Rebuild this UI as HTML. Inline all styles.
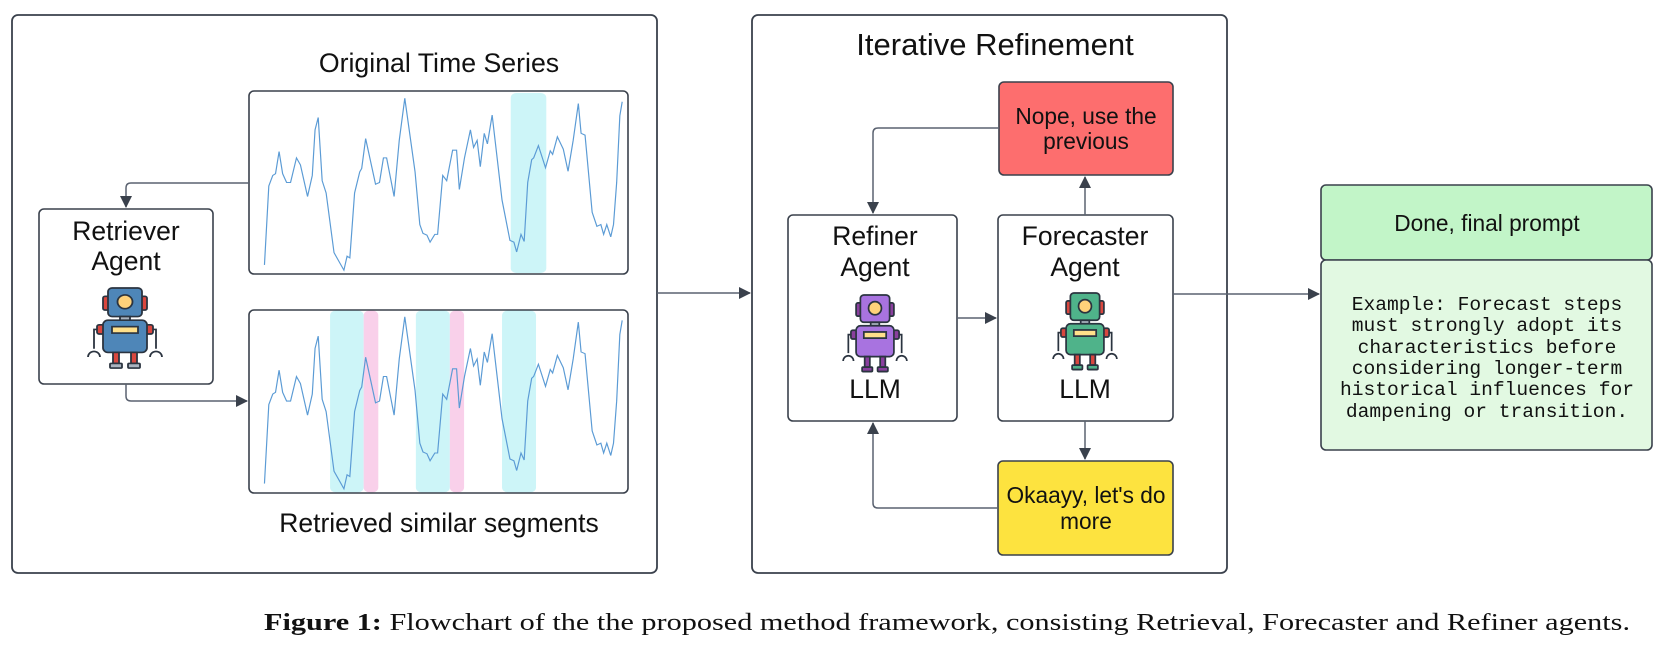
<!DOCTYPE html>
<html><head><meta charset="utf-8"><style>
html,body{margin:0;padding:0;background:#fff;}
svg{display:block;}
text{font-family:"Liberation Sans",sans-serif;fill:#111;}
</style></head><body>
<svg width="1674" height="646" viewBox="0 0 1674 646" xmlns="http://www.w3.org/2000/svg">
<defs>
<marker id="ah" markerWidth="12" markerHeight="12" refX="11" refY="6" orient="auto" markerUnits="userSpaceOnUse">
<path d="M0,0 L12,6 L0,12 Z" fill="#3a414c"/>
</marker>
<polyline id="ser" fill="none" stroke="#5b9bd5" stroke-width="3" points="669,755 680,530 690,500 697,495 706,432 715,495 725,520 735,520 750,450 760,470 778,560 790,500 797,370 805,335 815,515 825,550 845,720 860,750 870,770 878,730 885,735 897,550 910,490 915,480 925,395 950,525 960,520 970,450 978,450 997,560 1010,400 1024,280 1050,490 1062,640 1070,665 1080,670 1088,690 1100,668 1107,668 1120,500 1130,515 1145,428 1155,428 1162,540 1175,450 1190,370 1198,420 1207,400 1215,475 1225,380 1233,410 1245,328 1270,570 1290,685 1300,690 1307,718 1318,668 1326,688 1335,520 1345,455 1350,450 1362,415 1380,478 1392,430 1398,440 1410,390 1425,425 1437,488 1450,400 1463,295 1470,380 1480,385 1498,605 1510,645 1520,640 1527,668 1535,640 1545,675 1552,640 1560,520 1568,330 1574,290"/>
</defs>

<rect x="12" y="15" width="645" height="558" rx="6" fill="#fff" stroke="#3a414c" stroke-width="1.8"/>
<text x="439" y="72" font-size="26.7" text-anchor="middle">Original Time Series</text>
<text x="439" y="532" font-size="26.5" text-anchor="middle">Retrieved similar segments</text>

<g transform="scale(0.3953,0.3509)">
<rect x="1292" y="265" width="90" height="513" rx="14" fill="#cdf5f8"/>
<rect x="835" y="885" width="85" height="518" rx="14" fill="#cdf5f8"/>
<rect x="1052" y="885" width="86" height="518" rx="14" fill="#cdf5f8"/>
<rect x="1270" y="885" width="86" height="518" rx="14" fill="#cdf5f8"/>
<rect x="920" y="885" width="37" height="518" rx="14" fill="#f9d0ea"/>
<rect x="1138" y="885" width="36" height="518" rx="14" fill="#f9d0ea"/>
<use href="#ser"/>
<use href="#ser" transform="translate(0,623)"/>
</g>
<rect x="249" y="91" width="379" height="183" rx="5" fill="none" stroke="#3a414c" stroke-width="1.6"/>
<rect x="249" y="310" width="379" height="183" rx="5" fill="none" stroke="#3a414c" stroke-width="1.6"/>

<rect x="39" y="209" width="174" height="175" rx="5" fill="#fff" stroke="#3a414c" stroke-width="1.6"/>
<text x="126" y="240" font-size="26.5" text-anchor="middle">Retriever</text>
<text x="126" y="270" font-size="26.5" text-anchor="middle">Agent</text>

<path d="M249,183 H131 Q126,183 126,188 V207" fill="none" stroke="#5a6270" stroke-width="1.5" marker-end="url(#ah)"/>
<path d="M126,384 V396 Q126,401 131,401 H247" fill="none" stroke="#5a6270" stroke-width="1.5" marker-end="url(#ah)"/>

<g transform="translate(125,288) scale(1,0.92)">
<g stroke="#2b3440" stroke-width="1.8">
<rect x="-22" y="9" width="6" height="15" rx="2" fill="#d9473f"/>
<rect x="16" y="9" width="6" height="15" rx="2" fill="#d9473f"/>
<rect x="-17" y="0" width="34" height="31" rx="4" fill="#4e86b8"/>
<circle cx="0" cy="15" r="7.5" fill="#ffd27a"/>
<rect x="-5" y="31" width="10" height="5" fill="#aab4c0"/>
<rect x="-28" y="40" width="7" height="10" rx="2" fill="#d9473f"/>
<rect x="21" y="40" width="7" height="10" rx="2" fill="#d9473f"/>
<rect x="-22" y="35" width="44" height="35" rx="5" fill="#4e86b8"/>
<rect x="-13" y="42" width="26" height="7" fill="#ffe08a"/>
<path d="M-28,45 H-31 V66 M28,45 H31 V66" fill="none"/>
<path d="M-37,75 a6,6 0 0 1 12,0 M25,75 a6,6 0 0 1 12,0" fill="none"/>
<rect x="-12" y="70" width="6" height="12" fill="#d9473f"/>
<rect x="6" y="70" width="6" height="12" fill="#d9473f"/>
<rect x="-15" y="82" width="12" height="5" rx="1" fill="#aab4c0"/>
<rect x="3" y="82" width="12" height="5" rx="1" fill="#aab4c0"/>
</g></g>

<rect x="752" y="15" width="475" height="558" rx="6" fill="#fff" stroke="#3a414c" stroke-width="1.8"/>
<text x="995" y="55" font-size="31" text-anchor="middle">Iterative Refinement</text>

<path d="M657,293 H750" fill="none" stroke="#5a6270" stroke-width="1.5" marker-end="url(#ah)"/>

<rect x="999" y="82" width="174" height="93" rx="5" fill="#fd6e6e" stroke="#3a414c" stroke-width="1.6"/>
<text x="1086" y="124" font-size="22.7" text-anchor="middle">Nope, use the</text>
<text x="1086" y="149" font-size="22.7" text-anchor="middle">previous</text>

<rect x="788" y="215" width="169" height="206" rx="5" fill="#fff" stroke="#3a414c" stroke-width="1.6"/>
<text x="875" y="245" font-size="26.5" text-anchor="middle">Refiner</text>
<text x="875" y="276" font-size="26.5" text-anchor="middle">Agent</text>
<text x="875" y="398" font-size="26.5" text-anchor="middle">LLM</text>

<rect x="998" y="215" width="175" height="206" rx="5" fill="#fff" stroke="#3a414c" stroke-width="1.6"/>
<text x="1085" y="245" font-size="26.5" text-anchor="middle">Forecaster</text>
<text x="1085" y="276" font-size="26.5" text-anchor="middle">Agent</text>
<text x="1085" y="398" font-size="26.5" text-anchor="middle">LLM</text>

<rect x="998" y="461" width="175" height="94" rx="5" fill="#fde33f" stroke="#3a414c" stroke-width="1.6"/>
<text x="1086" y="503" font-size="22.7" text-anchor="middle">Okaayy, let's do</text>
<text x="1086" y="529" font-size="22.7" text-anchor="middle">more</text>

<path d="M999,128 H878 Q873,128 873,133 V213" fill="none" stroke="#5a6270" stroke-width="1.5" marker-end="url(#ah)"/>
<path d="M957,318 H996" fill="none" stroke="#5a6270" stroke-width="1.5" marker-end="url(#ah)"/>
<path d="M1085,215 V177" fill="none" stroke="#5a6270" stroke-width="1.5" marker-end="url(#ah)"/>
<path d="M1085,421 V459" fill="none" stroke="#5a6270" stroke-width="1.5" marker-end="url(#ah)"/>
<path d="M998,508 H878 Q873,508 873,503 V423" fill="none" stroke="#5a6270" stroke-width="1.5" marker-end="url(#ah)"/>
<path d="M1173,294 H1319" fill="none" stroke="#5a6270" stroke-width="1.5" marker-end="url(#ah)"/>

<g transform="translate(875,295) scale(0.86,0.88)">
<g stroke="#2b3440" stroke-width="2">
<rect x="-22" y="9" width="6" height="15" rx="2" fill="#8a3f9e"/>
<rect x="16" y="9" width="6" height="15" rx="2" fill="#8a3f9e"/>
<rect x="-17" y="0" width="34" height="31" rx="4" fill="#a873e0"/>
<circle cx="0" cy="15" r="7.5" fill="#ffd27a"/>
<rect x="-5" y="31" width="10" height="5" fill="#aab4c0"/>
<rect x="-28" y="40" width="7" height="10" rx="2" fill="#8a3f9e"/>
<rect x="21" y="40" width="7" height="10" rx="2" fill="#8a3f9e"/>
<rect x="-22" y="35" width="44" height="35" rx="5" fill="#a873e0"/>
<rect x="-13" y="42" width="26" height="7" fill="#ffe08a"/>
<path d="M-28,45 H-31 V66 M28,45 H31 V66" fill="none"/>
<path d="M-37,75 a6,6 0 0 1 12,0 M25,75 a6,6 0 0 1 12,0" fill="none"/>
<rect x="-12" y="70" width="6" height="12" fill="#8a3f9e"/>
<rect x="6" y="70" width="6" height="12" fill="#8a3f9e"/>
<rect x="-15" y="82" width="12" height="5" rx="1" fill="#8a3f9e"/>
<rect x="3" y="82" width="12" height="5" rx="1" fill="#8a3f9e"/>
</g></g>

<g transform="translate(1085,293) scale(0.86,0.88)">
<g stroke="#2b3440" stroke-width="2">
<rect x="-22" y="9" width="6" height="15" rx="2" fill="#d9473f"/>
<rect x="16" y="9" width="6" height="15" rx="2" fill="#d9473f"/>
<rect x="-17" y="0" width="34" height="31" rx="4" fill="#4fb38a"/>
<circle cx="0" cy="15" r="7.5" fill="#ffd27a"/>
<rect x="-5" y="31" width="10" height="5" fill="#aab4c0"/>
<rect x="-28" y="40" width="7" height="10" rx="2" fill="#d9473f"/>
<rect x="21" y="40" width="7" height="10" rx="2" fill="#d9473f"/>
<rect x="-22" y="35" width="44" height="35" rx="5" fill="#4fb38a"/>
<rect x="-13" y="42" width="26" height="7" fill="#ffe08a"/>
<path d="M-28,45 H-31 V66 M28,45 H31 V66" fill="none"/>
<path d="M-37,75 a6,6 0 0 1 12,0 M25,75 a6,6 0 0 1 12,0" fill="none"/>
<rect x="-12" y="70" width="6" height="12" fill="#d9473f"/>
<rect x="6" y="70" width="6" height="12" fill="#d9473f"/>
<rect x="-15" y="82" width="12" height="5" rx="1" fill="#4fb38a"/>
<rect x="3" y="82" width="12" height="5" rx="1" fill="#4fb38a"/>
</g></g>

<rect x="1321" y="185" width="331" height="75" rx="5" fill="#c2f5c8" stroke="#3a414c" stroke-width="1.6"/>
<rect x="1321" y="260" width="331" height="190" rx="5" fill="#e2f9e2" stroke="#3a414c" stroke-width="1.6"/>
<text x="1487" y="231" font-size="22.7" text-anchor="middle">Done, final prompt</text>
<g font-size="19.6" text-anchor="middle">
<text x="1487" y="310" style="font-family:'Liberation Mono',monospace">Example: Forecast steps</text>
<text x="1487" y="331" style="font-family:'Liberation Mono',monospace">must strongly adopt its</text>
<text x="1487" y="353" style="font-family:'Liberation Mono',monospace">characteristics before</text>
<text x="1487" y="374" style="font-family:'Liberation Mono',monospace">considering longer-term</text>
<text x="1487" y="395" style="font-family:'Liberation Mono',monospace">historical influences for</text>
<text x="1487" y="417" style="font-family:'Liberation Mono',monospace">dampening or transition.</text>
</g>

<text x="264" y="630" font-size="24" textLength="1366" lengthAdjust="spacingAndGlyphs" style="font-family:'Liberation Serif',serif"><tspan font-weight="bold">Figure 1:</tspan> Flowchart of the the proposed method framework, consisting Retrieval, Forecaster and Refiner agents.</text>
</svg>
</body></html>
